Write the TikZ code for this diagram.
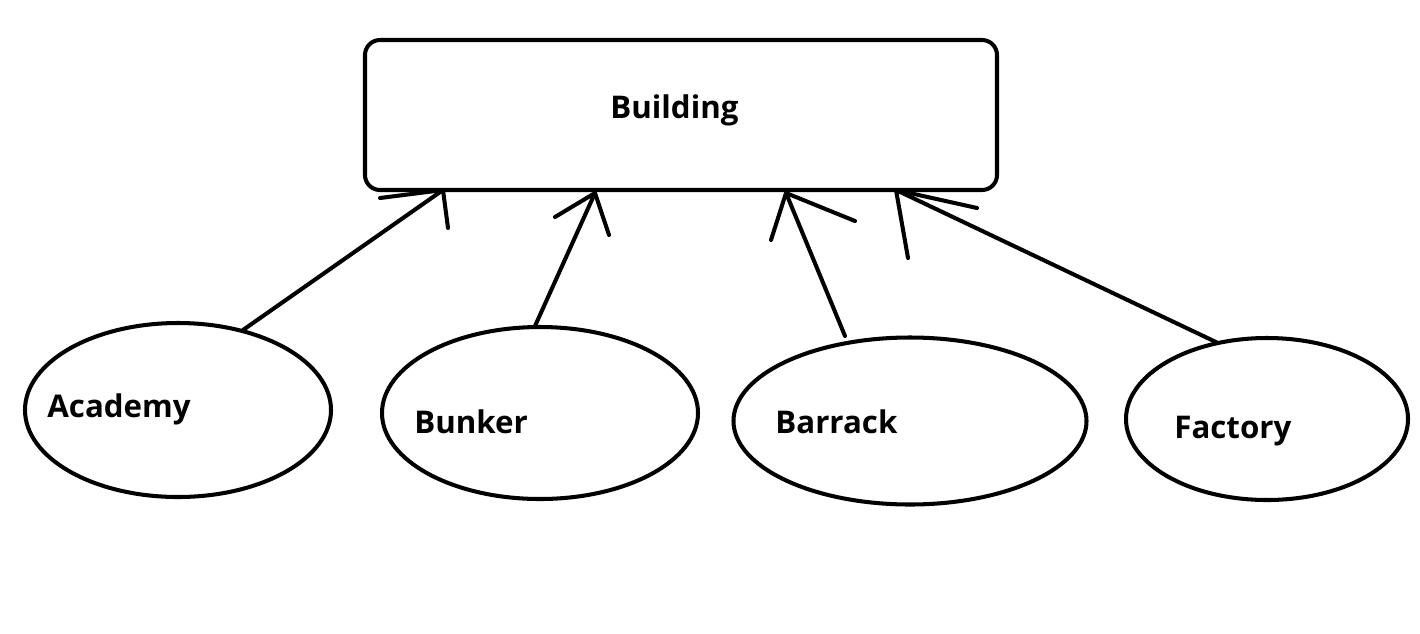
\documentclass[tikz,border=0pt]{standalone}
\usepackage{fontspec}
\setmainfont{Open Sans}
\usetikzlibrary{shapes.geometric}
\begin{document}
\begin{tikzpicture}[x=0.02cm,y=-0.02cm,
  ln/.style={line width=2.3pt,line cap=round,line join=round},
  oval/.style={ellipse,draw,ln,inner sep=0pt},
  lbl/.style={font=\bfseries\fontsize{17.8}{20}\selectfont,inner sep=0pt,anchor=base west}]
\useasboundingbox[fill=white] (0,0) rectangle (1420,633);
% building
\draw[ln,rounded corners=0.3cm] (365,40) rectangle (997,190);
\node[lbl] (bld) at (610,118) {Building};
% ellipses
\node[oval,minimum width=306*0.02cm,minimum height=174*0.02cm] (aca) at (178,410) {};
\node[oval,minimum width=316*0.02cm,minimum height=172*0.02cm] (bun) at (540,413) {};
\node[oval,minimum width=353*0.02cm,minimum height=167*0.02cm] (bar) at (910,421) {};
\node[oval,minimum width=282*0.02cm,minimum height=162*0.02cm] (fac) at (1267,419) {};
\node[lbl] (acat) at (47,417) {Academy};
\node[lbl] (bunt) at (414,433) {Bunker};
\node[lbl] (bart) at (775,433) {Barrack};
\node[lbl] (fact) at (1174,438) {Factory};
% arrow tips and ends
\coordinate (t1) at (443,190); \coordinate (s1) at (243,330);
\coordinate (t2) at (595,193); \coordinate (s2) at (535,326);
\coordinate (t3) at (786,193); \coordinate (s3) at (845,336);
\coordinate (t4) at (896,190); \coordinate (s4) at (1218,343);
\draw[ln] (s1) -- (t1);
\draw[ln] (380,198) -- (t1) -- (448,228);
\draw[ln] (s2) -- (t2);
\draw[ln] (555,217) -- (t2) -- (609,235);
\draw[ln] (s3) -- (t3);
\draw[ln] (771,240) -- (t3) -- (855,221);
\draw[ln] (s4) -- (t4);
\draw[ln] (908,258) -- (t4) -- (977,208);
\end{tikzpicture}
\end{document}
